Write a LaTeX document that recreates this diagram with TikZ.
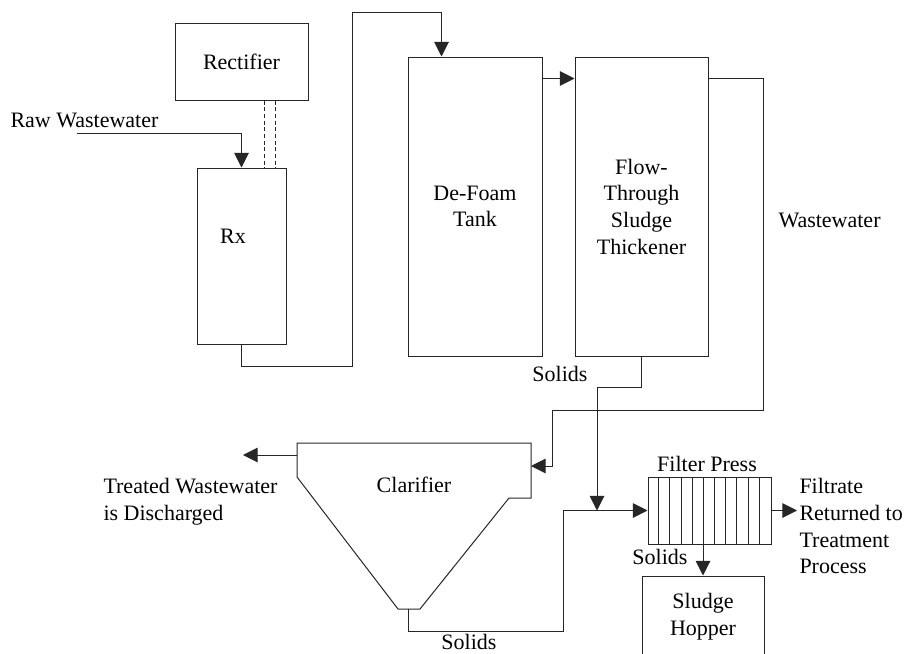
\documentclass[tikz,border=0pt]{standalone}
\usepackage{fontspec}
\setmainfont{Liberation Serif}
\usetikzlibrary{calc, arrows.meta}

\begin{document}
\begin{tikzpicture}[x=0.75pt, y=-0.75pt, line width=0.75pt, draw=black!85,
  font=\fontsize{16.5}{20}\selectfont,
  unit/.style={draw=black!85, inner sep=0pt, align=center},
  lbl/.style={inner sep=0pt, align=left},
  flow/.style={-{Triangle[length=11pt,width=11pt]}}]
  \useasboundingbox (0,0) rectangle (906,653);
  \node[unit, minimum width=99.75pt, minimum height=57.75pt] (rect) at (241.5,61.5) {Rectifier};
  \node[unit, minimum width=66.75pt, minimum height=132pt] (rx) at (241.5,256) {};
  \node[lbl] (rxname) at (233,236) {Rx};
  \node[unit, minimum width=100.5pt, minimum height=224.25pt] (defoam) at (475,206.5) {De-Foam\\Tank};
  \node[unit, minimum width=99.75pt, minimum height=224.25pt] (thick) at (641.5,206.5) {Flow-\\Through\\Sludge\\Thickener};
  \node[unit, minimum width=92.25pt, minimum height=50.25pt] (press) at (709.5,510.5) {};
  \node[unit, minimum width=91.5pt, minimum height=61.5pt] (hopper) at (703,617) {Sludge\\Hopper};
  \foreach \i in {1,...,10}
    \draw ($(press.north west)+(\i*11.18,0)$) -- ($(press.south west)+(\i*11.18,0)$);
  % clarifier
  \coordinate (clarTL) at (297,443);
  \coordinate (clarTR) at (531,443);
  \coordinate (clarin) at (531,466);
  \coordinate (clarout) at (297,455);
  \coordinate (clarbot) at (408,609);
  \draw (clarTL) -- (clarTR) -- (531,498) -- (509,498) -- (420,609) -- (398,609) -- (297,477) -- cycle;
  \node[lbl, anchor=base] (clarname) at (414,492) {Clarifier};
  % streams
  \coordinate (rawin) at (77,133);
  \coordinate (join) at (597,510.5);
  \coordinate (treated) at (243,455);
  \coordinate (filtrate) at (797,510.5);
  \draw[flow] (rawin) -| (rx.north);
  \draw[dash pattern=on 3pt off 2pt] ($(rect.south)+(22.5,0)$) -- ($(rx.north)+(22.5,0)$);
  \draw[dash pattern=on 3pt off 2pt] ($(rect.south)+(33.5,0)$) -- ($(rx.north)+(33.5,0)$);
  \draw[flow] (rx.south) -- ++(0,22) -| (352,12) -| ($(defoam.north west)+(34,0)$);
  \draw[flow] ($(defoam.north east)+(0,22)$) -- ($(thick.north west)+(0,22)$);
  \draw[flow] ($(thick.north east)+(0,22)$) -| (763,410) -| (552,466) -- (clarin);
  \draw[flow] (thick.south) |- (597,387) -- (join);
  \draw[flow] (clarbot) |- (563,631) |- (press.west);
  \draw[flow] (clarout) -- (treated);
  \draw[flow] (press.east) -- (filtrate);
  \draw[flow] (hopper.north |- press.south) -- (hopper.north);
  % labels
  \node[lbl, anchor=base west] (rawname) at (10,127) {Raw Wastewater};
  \node[lbl, anchor=base west] (wwname) at (778,227) {Wastewater};
  \node[lbl, anchor=base] (solids1) at (560,381) {Solids};
  \node[lbl, anchor=base] (solids2) at (469,649) {Solids};
  \node[lbl, anchor=base] (solids3) at (660,564) {Solids};
  \node[lbl, anchor=base] (pressname) at (707,471) {Filter Press};
  \node[lbl, anchor=north west] (treatedname) at (103,478) {Treated Wastewater\\is Discharged};
  \node[lbl, anchor=north west] (filtratename) at (799,478) {Filtrate\\Returned to\\Treatment\\Process};
\end{tikzpicture}
\end{document}
